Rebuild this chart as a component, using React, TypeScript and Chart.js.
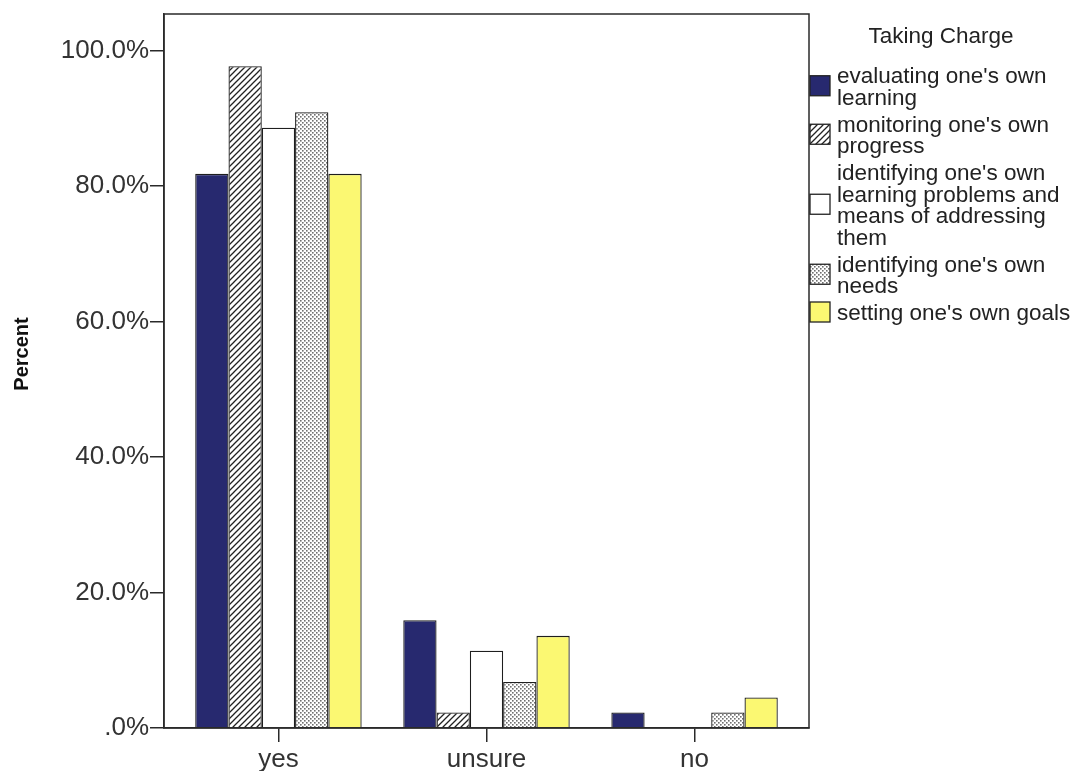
import React, { useEffect, useRef } from "react";
import { Chart, registerables } from "chart.js";

Chart.register(...registerables);

const categories = ["yes", "unsure", "no"];
const seriesLabels = [
  "evaluating one's own learning",
  "monitoring one's own progress",
  "identifying one's own learning problems and means of addressing them",
  "identifying one's own needs",
  "setting one's own goals",
];
const legendLines = [
  ["evaluating one's own", "learning"],
  ["monitoring one's own", "progress"],
  ["identifying one's own", "learning problems and", "means of addressing", "them"],
  ["identifying one's own", "needs"],
  ["setting one's own goals"],
];
const evaluating = [81.8, 15.9, 2.3];
const monitoring = [97.7, 2.3, 0];
const problems = [88.6, 11.4, 0];
const needs = [90.9, 6.8, 2.3];
const goals = [81.8, 13.6, 4.5];
const yTicks = [0, 20, 40, 60, 80, 100];
const legendTitle = "Taking Charge";
const yTitle = "Percent";

const FONT = '"Liberation Sans", Arial, sans-serif';

function hatchPattern(ctx: CanvasRenderingContext2D) {
  const c = document.createElement("canvas");
  c.width = 6;
  c.height = 6;
  const g = c.getContext("2d")!;
  g.fillStyle = "#ffffff";
  g.fillRect(0, 0, 6, 6);
  g.strokeStyle = "#222222";
  g.lineWidth = 1.3;
  g.beginPath();
  g.moveTo(-1, 7);
  g.lineTo(7, -1);
  g.moveTo(-4, 4);
  g.lineTo(4, -4);
  g.moveTo(2, 10);
  g.lineTo(10, 2);
  g.stroke();
  return ctx.createPattern(c, "repeat")!;
}

function dotPattern(ctx: CanvasRenderingContext2D) {
  const c = document.createElement("canvas");
  c.width = 4;
  c.height = 4;
  const g = c.getContext("2d")!;
  g.fillStyle = "#ffffff";
  g.fillRect(0, 0, 4, 4);
  g.fillStyle = "#707070";
  g.fillRect(0, 0, 1.6, 1.6);
  g.fillRect(2, 2, 1.6, 1.6);
  return ctx.createPattern(c, "repeat")!;
}

const sidePlugin = {
  id: "sideStuff",
  afterDatasetsDraw(chart: any) {
    const { ctx, chartArea } = chart;
    ctx.save();
    ctx.strokeStyle = "#2a2a2a";
    ctx.lineWidth = 1.5;
    ctx.strokeRect(chartArea.left, chartArea.top, chartArea.right - chartArea.left, chartArea.bottom - chartArea.top);
    ctx.restore();
  },
  afterDraw(chart: any) {
    const { ctx, chartArea } = chart;
    ctx.save();
    ctx.font = `bold 20px ${FONT}`;
    ctx.fillStyle = "#111";
    ctx.textAlign = "center";
    ctx.textBaseline = "middle";
    ctx.translate(22, 354);
    ctx.rotate(-Math.PI / 2);
    ctx.fillText(yTitle, 0, 0);
    ctx.restore();

    ctx.save();
    const x0 = chartArea.right;
    ctx.font = `22.5px ${FONT}`;
    ctx.fillStyle = "#222";
    ctx.textAlign = "center";
    ctx.textBaseline = "middle";
    ctx.fillText(legendTitle, x0 + 132, 37);
    ctx.textAlign = "left";
    const lh = 21.5;
    let y = 77;
    chart.data.datasets.forEach((ds: any, i: number) => {
      const lines = legendLines[i];
      const blockTop = y - lh / 2;
      const blockH = lines.length * lh;
      const boxY = blockTop + blockH / 2 - 12;
      ctx.fillStyle = ds.backgroundColor;
      ctx.fillRect(x0 + 1, boxY, 20, 20);
      ctx.strokeStyle = "#222";
      ctx.lineWidth = 1.3;
      ctx.strokeRect(x0 + 1, boxY, 20, 20);
      ctx.fillStyle = "#222";
      lines.forEach((l, j) => ctx.fillText(l, x0 + 28, y + j * lh));
      y += blockH + 5.5;
    });
    ctx.restore();
  },
};

export default function App() {
  const ref = useRef<HTMLCanvasElement>(null);
  useEffect(() => {
    const canvas = ref.current!;
    const ctx = canvas.getContext("2d")!;
    const hatch = hatchPattern(ctx);
    const dots = dotPattern(ctx);
    const series = [evaluating, monitoring, problems, needs, goals];
    const fills: any[] = ["#27296f", hatch, "#ffffff", dots, "#fbf872"];
    const chart = new Chart(ctx, {
      type: "bar",
      data: {
        datasets: series.map((vals, i) => ({
          label: seriesLabels[i],
          data: vals.map((v, k) => ({ x: k, y: v })),
          backgroundColor: fills[i],
          borderColor: "#1e1e1e",
          borderWidth: 1.3,
          categoryPercentage: 0.8,
          barPercentage: 1.0,
        })),
      },
      options: {
        animation: false,
        responsive: false,
        maintainAspectRatio: false,
        layout: { padding: { top: 14, right: 265, left: 0, bottom: 0 } },
        plugins: { legend: { display: false }, tooltip: { enabled: false } },
        scales: {
          x: {
            type: "linear",
            min: -0.55,
            max: 2.55,
            offset: false,
            grid: { offset: false, drawOnChartArea: false, drawTicks: true, tickLength: 14, color: "#2a2a2a", lineWidth: 1.5 },
            border: { display: true, color: "#2a2a2a", width: 1.5 },
            ticks: {
              stepSize: 1,
              includeBounds: false,
              autoSkip: false,
              maxRotation: 0,
              padding: 2,
              color: "#333",
              font: { family: FONT, size: 26 },
              callback: (v: any) => categories[v] ?? "",
            },
            afterFit: (s: any) => {
              s.height = 43;
            },
          },
          y: {
            min: 0,
            max: 105.4,
            grid: { drawOnChartArea: false, drawTicks: true, tickLength: 14, color: "#2a2a2a", lineWidth: 1.5 },
            border: { display: true, color: "#2a2a2a", width: 1.5 },
            afterBuildTicks: (s: any) => {
              s.ticks = yTicks.map((v) => ({ value: v }));
            },
            ticks: {
              padding: 1,
              color: "#333",
              font: { family: FONT, size: 26, lineHeight: 1 },
              callback: (v: any) => (v === 0 ? ".0%" : Number(v).toFixed(1) + "%"),
            },
            afterFit: (s: any) => {
              s.width = 164;
            },
          },
        },
      },
      plugins: [sidePlugin],
    });
    return () => chart.destroy();
  }, []);
  return (
    <div style={{ position: "absolute", left: 0, top: 0, width: 1074, height: 771, background: "#fff" }}>
      <canvas ref={ref} width={1074} height={771} />
    </div>
  );
}
